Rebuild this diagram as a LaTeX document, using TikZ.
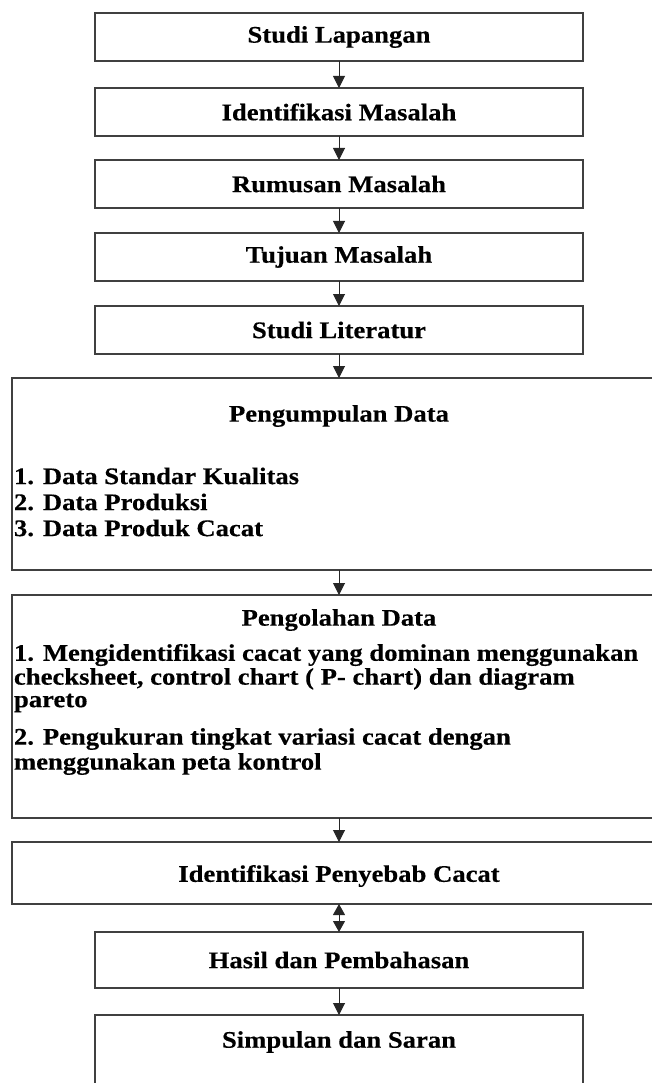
\documentclass[tikz,border=0pt]{standalone}
\usepackage{fontspec}
\setmainfont{Liberation Serif}[FakeStretch=1.12, BoldFeatures={FakeBold=0.35}]
\usetikzlibrary{arrows.meta}
\begin{document}
\begin{tikzpicture}[x=1pt,y=-1pt,
  every node/.style={inner sep=0pt, outer sep=0pt},
  lbl/.style={font=\bfseries\fontsize{23.8}{24}\selectfont},
  box/.style={draw=black!75, line width=1.1pt, minimum width=488pt, minimum height=48pt, lbl},
  wbox/.style={draw=black!75, line width=1.1pt, minimum width=668pt},
  arr/.style={draw=black!85, line width=1pt, -{Triangle[width=12pt,length=12pt]}},
  darr/.style={draw=black!85, line width=1pt, {Triangle[width=12pt,length=11pt]}-{Triangle[width=12pt,length=11pt]}}]
\useasboundingbox (0,0) rectangle (652,1083);
\clip (0,0) rectangle (652,1083);
% small boxes
\node[box] (b1) at (339,37) {Studi Lapangan};
\node[box] (b2) at (339,112) {Identifikasi Masalah};
\node[box] (b3) at (339,184) {Rumusan Masalah};
\node[box] (b4) at (339,257) {Tujuan Masalah};
\node[box] (b5) at (339,330) {Studi Literatur};
% big box 1
\node[wbox, minimum height=192pt] (g1) at (346,474) {};
\node[lbl] (g1t) at (339,416) {Pengumpulan Data};
\node[lbl, anchor=west] (g1a) at (14,476) {1. Data Standar Kualitas};
\node[lbl, anchor=west] (g1b) at (14,502) {2. Data Produksi};
\node[lbl, anchor=west] (g1c) at (14,528) {3. Data Produk Cacat};
% big box 2
\node[wbox, minimum height=223pt] (g2) at (346,706.5) {};
\node[lbl] (g2t) at (339,620) {Pengolahan Data};
\node[lbl, anchor=west] (g2a) at (14,655) {1. Mengidentifikasi cacat yang dominan menggunakan};
\node[lbl, anchor=west] (g2b) at (14,679) {checksheet, control chart ( P- chart) dan diagram};
\node[lbl, anchor=west] (g2c) at (14,703) {pareto};
\node[lbl, anchor=west] (g2d) at (14,739) {2. Pengukuran tingkat variasi cacat dengan};
\node[lbl, anchor=west] (g2e) at (14,764) {menggunakan peta kontrol};
% lower boxes
\node[wbox, minimum height=62pt] (b6) at (346,873) {};
\node[lbl] (b6t) at (339,876) {Identifikasi Penyebab Cacat};
\node[box, minimum height=56pt] (b7) at (339,960) {Hasil dan Pembahasan};
\node[box, minimum height=90pt] (b8) at (339,1060) {};
\node[lbl] (b8t) at (339,1042) {Simpulan dan Saran};
% connectors
\draw[arr] (b1.south) -- (b2.north);
\draw[arr] (b2.south) -- (b3.north);
\draw[arr] (b3.south) -- (b4.north);
\draw[arr] (b4.south) -- (b5.north);
\draw[arr] (b5.south) -- (b5.south |- g1.north);
\draw[arr] (b5.south |- g1.south) -- (b5.south |- g2.north);
\draw[arr] (b5.south |- g2.south) -- (b5.south |- b6.north);
\draw[darr] (b7.north |- b6.south) -- (b7.north);
\draw[arr] (b7.south) -- (b8.north);
\end{tikzpicture}
\end{document}
